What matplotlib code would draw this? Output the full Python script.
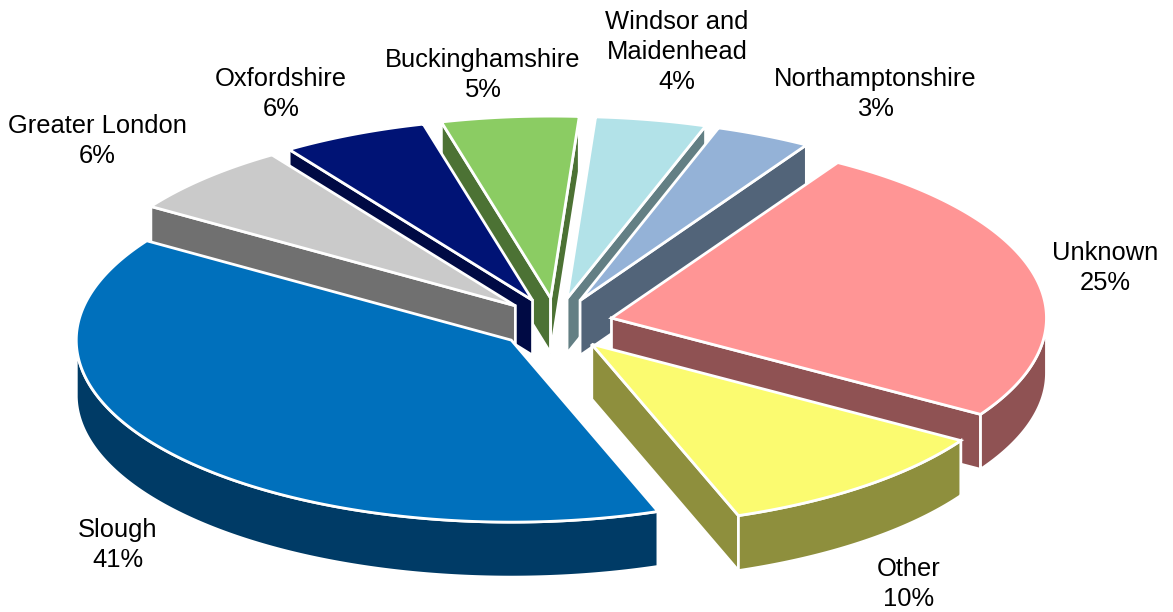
import numpy as np
import matplotlib
matplotlib.use("Agg")
import matplotlib.pyplot as plt
from matplotlib.patches import Polygon

plt.rcParams['font.family'] = ['Liberation Sans', 'DejaVu Sans']

# slices, clockwise on screen starting from the Slough edge
names = ["Slough", "Greater London", "Oxfordshire", "Buckinghamshire",
         "Windsor and\nMaidenhead", "Northamptonshire", "Unknown", "Other"]
pct_labels = ["41%", "6%", "6%", "5%", "4%", "3%", "25%", "10%"]
# share of the full turn as drawn
shares = [39.66, 6.36, 5.41, 5.09, 4.11, 3.55, 25.17, 10.65]

top_colors = ["#0070BC", "#CACACA", "#001375", "#8BCC63",
              "#B2E2E8", "#94B2D7", "#FF9595", "#FBFB70"]
side_colors = ["#003B66", "#707070", "#000A44", "#4C7234",
               "#637F84", "#526479", "#8F5253", "#8E8F3D"]
label_pos = [(118, 545), (97, 141), (281, 94), (483, 75),
             (677, 52), (875, 94), (1105, 268), (909, 584)]

# back to front
draw_order = [3, 4, 5, 2, 1, 6, 7, 0]

START = 70.3
CX, CY = 556, 324
RX, RY = 435, 182
EX, EY = 57, 26
DEPTH = 55

fig = plt.figure(figsize=(11.73, 6.12), dpi=100)
ax = fig.add_axes([0, 0, 1, 1])
ax.set_xlim(0, 1173)
ax.set_ylim(612, 0)
ax.axis("off")

edges = START + np.concatenate(([0], np.cumsum(shares))) * 3.6


def face(pts, color, z):
    ax.add_patch(Polygon(pts, closed=True, facecolor=color, edgecolor="white",
                         lw=2, joinstyle="miter", zorder=z))


for k, i in enumerate(draw_order):
    a0, a1 = np.radians(edges[i]), np.radians(edges[i + 1])
    mid = (a0 + a1) / 2
    tx = CX + EX * np.cos(mid)
    ty = CY + EY * np.sin(mid)
    t = np.linspace(a0, a1, 200)
    arc = np.column_stack((tx + RX * np.cos(t), ty + RY * np.sin(t)))
    tip = np.array([tx, ty])
    down = np.array([0, DEPTH])
    z = 2 + k

    # cut faces that look towards the viewer, then the rim, then the top
    if np.cos(a0) < 0:
        face([tip, arc[0], arc[0] + down, tip + down], side_colors[i], z)
    if np.cos(a1) > 0:
        face([tip, arc[-1], arc[-1] + down, tip + down], side_colors[i], z)
    front = arc[np.sin(t) > 0]
    if len(front) > 1:
        face(np.vstack((front, front[::-1] + down)), side_colors[i], z)
    face(np.vstack(([tip], arc)), top_colors[i], z)

for name, pct, (x, y) in zip(names, pct_labels, label_pos):
    ax.text(x, y, name + "\n" + pct, ha="center", va="center", fontsize=18.4,
            linespacing=1.33, color="black", zorder=20)

fig.savefig("out.png", dpi=100)
